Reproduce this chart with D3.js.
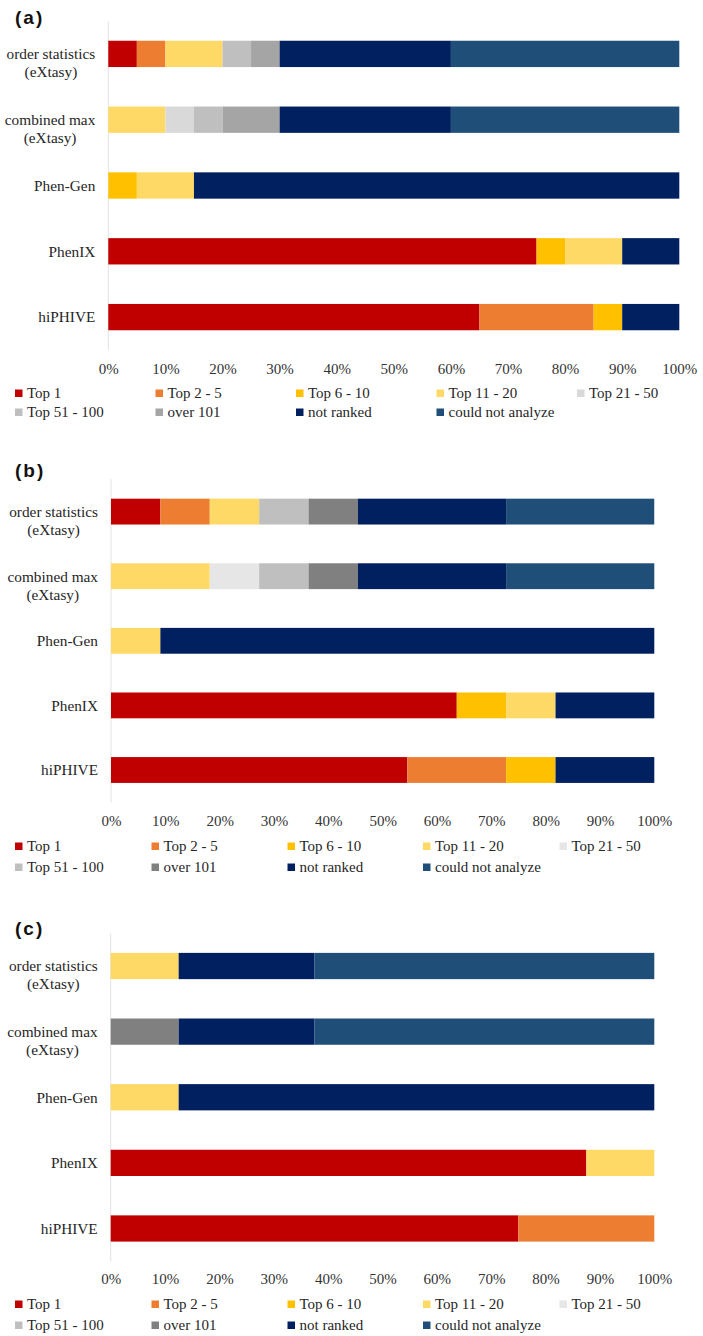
<!DOCTYPE html>
<html>
<head>
<meta charset="utf-8">
<script src="https://cdn.jsdelivr.net/npm/d3@7"></script>
<style>
  html, body { margin: 0; padding: 0; background: #fff; }
  svg { display: block; }
</style>
</head>
<body>
<div id="chart"></div>
<script>
// ---------- DATA ----------
const categories = ["order statistics\n(eXtasy)", "combined max\n(eXtasy)", "Phen-Gen", "PhenIX", "hiPHIVE"];
const seriesNames = ["Top 1", "Top 2 - 5", "Top 6 - 10", "Top 11 - 20", "Top 21 - 50",
                     "Top 51 - 100", "over 101", "not ranked", "could not analyze"];
const tickLabels = ["0%", "10%", "20%", "30%", "40%", "50%", "60%", "70%", "80%", "90%", "100%"];
const tickValues = [0, 10, 20, 30, 40, 50, 60, 70, 80, 90, 100];
const panelTitles = ["(a)", "(b)", "(c)"];

// values (%) per category, in series order
const valuesA = [
  [5, 5, 0, 10, 0, 5, 5, 30, 40],
  [0, 0, 0, 10, 5, 5, 10, 30, 40],
  [0, 0, 5, 10, 0, 0, 0, 85, 0],
  [75, 0, 5, 10, 0, 0, 0, 10, 0],
  [65, 20, 5, 0, 0, 0, 0, 10, 0]
];
const valuesB = [
  [9.09, 9.09, 0, 9.09, 0, 9.09, 9.09, 27.27, 27.27],
  [0, 0, 0, 18.18, 9.09, 9.09, 9.09, 27.27, 27.28],
  [0, 0, 0, 9.09, 0, 0, 0, 90.91, 0],
  [63.64, 0, 9.09, 9.09, 0, 0, 0, 18.18, 0],
  [54.55, 18.18, 9.09, 0, 0, 0, 0, 18.18, 0]
];
const valuesC = [
  [0, 0, 0, 12.5, 0, 0, 0, 25, 62.5],
  [0, 0, 0, 0, 0, 0, 12.5, 25, 62.5],
  [0, 0, 0, 12.5, 0, 0, 0, 87.5, 0],
  [87.5, 0, 0, 12.5, 0, 0, 0, 0, 0],
  [75, 25, 0, 0, 0, 0, 0, 0, 0]
];

const colorsA = ["#C00000", "#ED7D31", "#FFC000", "#FFD966", "#D9D9D9",
                 "#BFBFBF", "#A5A5A5", "#002060", "#1F4E79"];
const colorsBC = ["#C00000", "#ED7D31", "#FFC000", "#FFD966", "#E7E6E6",
                  "#BFBFBF", "#808080", "#002060", "#1F4E79"];

// ---------- LAYOUT ----------
const W = 703, H = 1336;
const panels = [
  { title: panelTitles[0], values: valuesA, colors: colorsA, titleY: 17,
    x0: 108.3, x1: 679.3, yTop: 21, yBot: 350, tickY: 369,
    legendY: [393, 412], legendX: [15, 155.5, 296, 436.5, 577] },
  { title: panelTitles[1], values: valuesB, colors: colorsBC, titleY: 470,
    x0: 111, x1: 654.3, yTop: 479.3, yBot: 802.3, tickY: 821,
    legendY: [846, 867], legendX: [15, 151.5, 287.5, 423, 559.5] },
  { title: panelTitles[2], values: valuesC, colors: colorsBC, titleY: 928,
    x0: 110.7, x1: 654.3, yTop: 933.2, yBot: 1261.3, tickY: 1279,
    legendY: [1304, 1325], legendX: [15, 151.5, 287.5, 423, 559.5] }
];

const svg = d3.select("#chart").append("svg")
  .attr("width", W).attr("height", H)
  .style("background", "#fff");

const serif = "'Liberation Serif', 'Times New Roman', serif";
const sans = "'Liberation Sans', Arial, sans-serif";

panels.forEach(p => {
  const g = svg.append("g");

  // title
  g.append("text")
    .attr("x", 15).attr("y", p.titleY).attr("dy", "0.35em")
    .attr("font-family", sans).attr("font-weight", "bold")
    .attr("font-size", 19).attr("letter-spacing", 2)
    .attr("fill", "#111")
    .text(p.title);

  const x = d3.scaleLinear().domain([0, 100]).range([p.x0, p.x1]);
  const y = d3.scaleBand().domain(categories).range([p.yTop, p.yBot])
    .paddingInner(0.6).paddingOuter(0.3);

  // vertical axis line
  g.append("line")
    .attr("x1", p.x0).attr("x2", p.x0)
    .attr("y1", p.yTop).attr("y2", p.yBot)
    .attr("stroke", "#E3E3E3").attr("stroke-width", 1);

  // stacked data
  const rows = categories.map((c, i) => {
    const r = { cat: c };
    seriesNames.forEach((s, j) => r[s] = p.values[i][j]);
    return r;
  });
  const stacked = d3.stack().keys(seriesNames)(rows);

  g.selectAll("g.series").data(stacked).join("g")
    .attr("class", "series")
    .attr("fill", (d, i) => p.colors[i])
    .selectAll("rect").data(d => d).join("rect")
    .attr("x", d => x(d[0]))
    .attr("width", d => Math.max(0, x(d[1]) - x(d[0])))
    .attr("y", d => y(d.data.cat))
    .attr("height", y.bandwidth());

  // category labels
  categories.forEach(c => {
    const lines = c.split("\n");
    const cy = y(c) + y.bandwidth() / 2;
    const t = g.append("g");
    const texts = lines.map((ln, k) => t.append("text")
      .attr("y", cy + k * 18).attr("dy", "0.35em")
      .attr("font-family", serif).attr("font-size", 15.3)
      .attr("fill", "#262626")
      .attr("text-anchor", "middle")
      .text(ln));
    const maxW = d3.max(texts, tx => tx.node().getComputedTextLength());
    const cx = p.x0 - 13 - maxW / 2;
    texts.forEach(tx => tx.attr("x", cx));
  });

  // x axis
  const axis = d3.axisBottom(x)
    .tickValues(tickValues)
    .tickFormat((d, i) => tickLabels[i])
    .tickSize(0);
  const ag = g.append("g").attr("transform", `translate(0,${p.tickY})`).call(axis);
  ag.select(".domain").remove();
  ag.selectAll("text")
    .attr("y", 0).attr("dy", "0.35em")
    .attr("font-family", serif).attr("font-size", 15)
    .attr("fill", "#333");

  // legend
  seriesNames.forEach((s, i) => {
    const row = i < 5 ? 0 : 1;
    const col = i < 5 ? i : i - 5;
    const lx = p.legendX[col];
    const ly = p.legendY[row];
    g.append("rect")
      .attr("x", lx).attr("y", ly - 3.5)
      .attr("width", 7.5).attr("height", 7.5)
      .attr("fill", p.colors[i]);
    g.append("text")
      .attr("x", lx + 12).attr("y", ly).attr("dy", "0.35em")
      .attr("font-family", serif).attr("font-size", 15)
      .attr("fill", "#262626")
      .text(s);
  });
});
</script>
</body>
</html>
